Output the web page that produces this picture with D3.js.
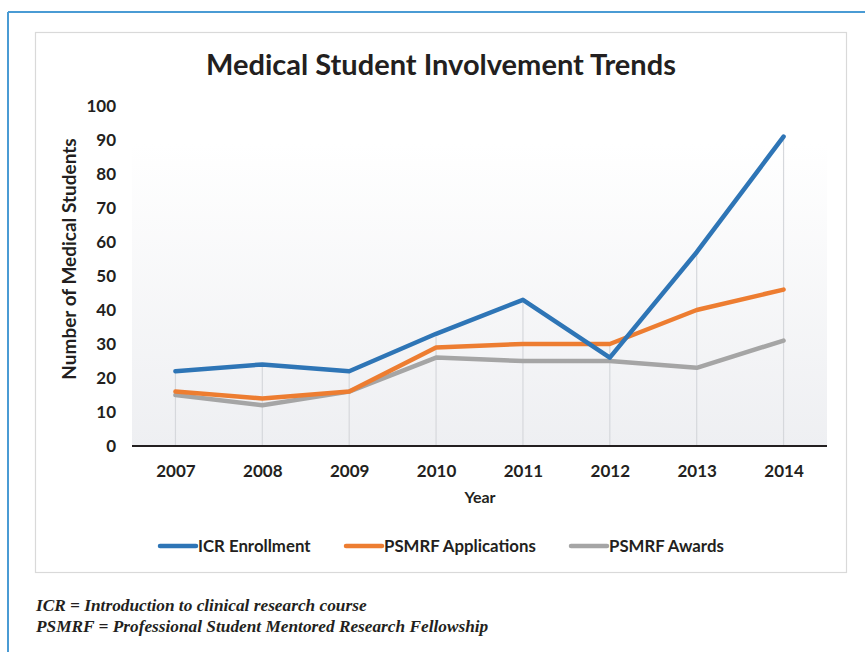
<!DOCTYPE html>
<html><head><meta charset="utf-8">
<script src="https://cdn.jsdelivr.net/npm/d3@7"></script>
<style>body{margin:0;background:#fff}svg{display:block}</style>
</head><body>
<script>
const years = ["2007","2008","2009","2010","2011","2012","2013","2014"];
const icrEnrollment = [22,24,22,33,43,26,57,91];
const psmrfApplications = [16,14,16,29,30,30,40,46];
const psmrfAwards = [15,12,16,26,25,25,23,31];
const yTicks = [0,10,20,30,40,50,60,70,80,90,100];
const seriesNames = ["ICR Enrollment","PSMRF Applications","PSMRF Awards"];
const seriesColors = ["#2e75b6","#ed7d31","#a5a5a5"];

const series = [icrEnrollment, psmrfApplications, psmrfAwards].map((v,i)=>({name:seriesNames[i],color:seriesColors[i],values:v}));

const W=865,H=652;
const svg=d3.select("body").append("svg").attr("width",W).attr("height",H);
const font="Lato, 'Open Sans', sans-serif";

// outer frame
svg.append("line").attr("x1",8).attr("x2",W).attr("y1",12).attr("y2",12).attr("stroke","#4a9bd4").attr("stroke-width",2);
svg.append("line").attr("x1",8).attr("x2",8).attr("y1",12).attr("y2",H).attr("stroke","#4a9bd4").attr("stroke-width",2);
// inner chart box
svg.append("rect").attr("x",35.5).attr("y",32.5).attr("width",811).attr("height",540).attr("fill","#fff").attr("stroke","#d9d9d9").attr("stroke-width",1.2);

const plot={left:132,right:827,top:106,bottom:446};
const x=d3.scalePoint().domain(years).range([plot.left,plot.right]).padding(0.5);
const y=d3.scaleLinear().domain([0,100]).range([plot.bottom,plot.top]);

const defs=svg.append("defs");
const grad=defs.append("linearGradient").attr("id","bg").attr("x1",0).attr("x2",0).attr("y1",0).attr("y2",1);
grad.append("stop").attr("offset","0%").attr("stop-color","#ffffff");
grad.append("stop").attr("offset","100%").attr("stop-color","#eeeff2");
svg.append("rect").attr("x",plot.left).attr("y",y(90)+4).attr("width",plot.right-plot.left).attr("height",plot.bottom-y(90)-4).attr("fill","url(#bg)");

// drop lines
svg.append("g").selectAll("line").data(years).join("line")
  .attr("x1",d=>x(d)).attr("x2",d=>x(d))
  .attr("y1",(d,i)=>y(d3.max(series,s=>s.values[i])))
  .attr("y2",plot.bottom)
  .attr("stroke","#d6d8dc").attr("stroke-width",1.2);

// y axis labels
const yAxis=d3.axisLeft(y).tickValues(yTicks).tickSize(0).tickPadding(0);
const gy=svg.append("g").attr("transform",`translate(116,0)`).call(yAxis);
gy.select(".domain").remove();
gy.selectAll("text").attr("font-family",font).attr("font-weight","bold").attr("font-size",17).attr("fill","#231f20").attr("dy","0.35em");

// x axis
const xAxis=d3.axisBottom(x).tickSize(0).tickPadding(0);
const gx=svg.append("g").attr("transform",`translate(0,${plot.bottom})`).call(xAxis);
gx.select(".domain").remove();
gx.selectAll("text").attr("font-family",font).attr("font-weight","bold").attr("font-size",17).attr("fill","#231f20").attr("y",31).attr("dy",0);
svg.append("line").attr("x1",plot.left).attr("x2",plot.right).attr("y1",plot.bottom).attr("y2",plot.bottom).attr("stroke","#231f20").attr("stroke-width",2);

// lines
const line=d3.line().x((d,i)=>x(years[i])).y(d=>y(d));
svg.append("g").selectAll("path").data(series.slice().reverse()).join("path")
  .attr("d",d=>line(d.values)).attr("fill","none").attr("stroke",d=>d.color)
  .attr("stroke-width",4.5).attr("stroke-linejoin","round").attr("stroke-linecap","round");

// titles
svg.append("text").attr("x",441).attr("y",75).attr("text-anchor","middle").attr("font-family",font).attr("font-weight","bold").attr("font-size",29).attr("fill","#231f20").text("Medical Student Involvement Trends");
svg.append("text").attr("x",480).attr("y",503).attr("text-anchor","middle").attr("font-family",font).attr("font-weight","bold").attr("font-size",16).attr("fill","#231f20").text("Year");
svg.append("text").attr("transform","translate(76,259) rotate(-90)").attr("text-anchor","middle").attr("font-family",font).attr("font-weight","bold").attr("font-size",19).attr("fill","#231f20").text("Number of Medical Students");

// legend
const legX=[160,346,571];
const lg=svg.append("g").selectAll("g").data(series).join("g").attr("transform",(d,i)=>`translate(${legX[i]},546)`);
lg.append("line").attr("x1",0).attr("x2",36).attr("stroke",d=>d.color).attr("stroke-width",4.5).attr("stroke-linecap","round");
lg.append("text").attr("x",38).attr("dy","0.35em").attr("font-family",font).attr("font-weight","bold").attr("font-size",16.8).attr("fill","#231f20").text(d=>d.name);

// footnotes
const notes=["ICR = Introduction to clinical research course","PSMRF = Professional Student Mentored Research Fellowship"];
svg.append("g").selectAll("text").data(notes).join("text").attr("x",36).attr("y",(d,i)=>611+i*21)
  .attr("font-family","'Liberation Serif', serif").attr("font-style","italic").attr("font-weight","bold").attr("font-size",17.3).attr("fill","#231f20").text(d=>d);
</script>
</body></html>
